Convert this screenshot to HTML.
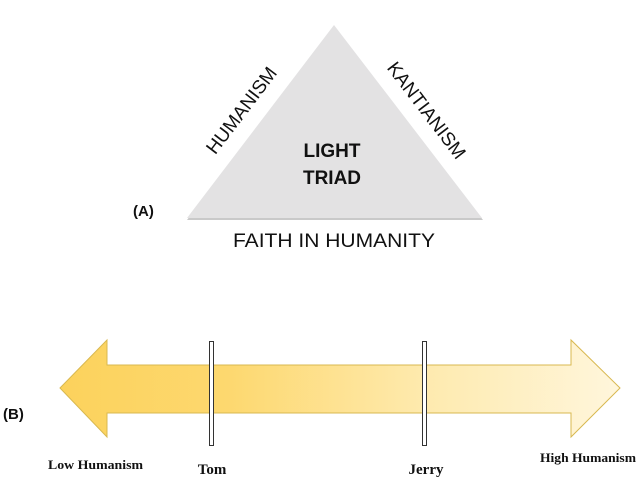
<!DOCTYPE html>
<html><head><meta charset="utf-8"><style>html,body{margin:0;padding:0;background:#fff}</style></head>
<body>
<svg width="638" height="479" viewBox="0 0 638 479" xmlns="http://www.w3.org/2000/svg" style="display:block">
<defs>
<linearGradient id="g" x1="0" x2="1" y1="0" y2="0">
<stop offset="0" stop-color="#fcd25c"/>
<stop offset="0.3" stop-color="#fdd86f"/>
<stop offset="0.65" stop-color="#feeaae"/>
<stop offset="1" stop-color="#fff6dc"/>
</linearGradient>
</defs>
<polygon points="187,220 334,27 483,220" fill="#c9c9c9"/>
<polygon points="187,218 334,25 482,218" fill="#e3e2e3"/>
<g font-family="Liberation Sans, Arial, sans-serif" fill="#111">
<text x="241" y="117" font-size="19" text-anchor="middle" transform="rotate(-52.7 241 110)">HUMANISM</text>
<text x="427" y="117" font-size="19" text-anchor="middle" transform="rotate(52.7 427 110)">KANTIANISM</text>
<text x="332" y="157" font-size="19" font-weight="bold" text-anchor="middle">LIGHT</text>
<text x="332" y="184" font-size="19" font-weight="bold" text-anchor="middle">TRIAD</text>
<text x="233" y="247" font-size="19" textLength="202" lengthAdjust="spacingAndGlyphs">FAITH IN HUMANITY</text>
<text x="133" y="216" font-size="15" font-weight="bold">(A)</text>
<text x="3" y="419" font-size="15" font-weight="bold">(B)</text>
</g>
<polygon points="60,388 107,340 107,365 571,365 571,340 620,388 571,437 571,413 107,413 107,437" fill="url(#g)" stroke="#d8b850" stroke-width="1"/>
<rect x="209.5" y="341.5" width="4" height="104" fill="#fff" stroke="#333" stroke-width="1"/>
<rect x="422.5" y="341.5" width="4" height="104" fill="#fff" stroke="#333" stroke-width="1"/>
<g font-family="Liberation Serif, Times New Roman, serif" font-weight="bold" fill="#111">
<text x="48" y="469" font-size="13" textLength="95" lengthAdjust="spacingAndGlyphs">Low Humanism</text>
<text x="212" y="474" font-size="15" text-anchor="middle">Tom</text>
<text x="426" y="474" font-size="15" text-anchor="middle">Jerry</text>
<text x="540" y="462" font-size="13" textLength="96" lengthAdjust="spacingAndGlyphs">High Humanism</text>
</g>
</svg>
</body></html>
